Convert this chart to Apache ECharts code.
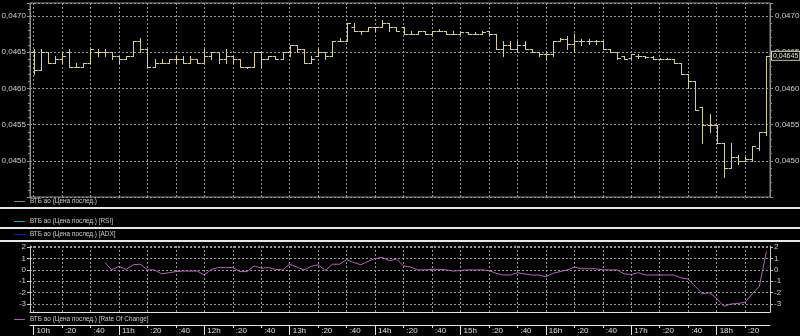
<!DOCTYPE html>
<html><head><meta charset="utf-8">
<script src="https://cdn.jsdelivr.net/npm/echarts@6/dist/echarts.min.js"></script>
<style>html,body{margin:0;padding:0;background:#000;}#c{width:800px;height:336px;}</style>
</head><body><div id="c"></div>
<script>
const times = ["10:00","10:05","10:10","10:15","10:20","10:25","10:30","10:35","10:40","10:45","10:50","10:55",
"11:00","11:05","11:10","11:15","11:20","11:25","11:30","11:35","11:40","11:45","11:50","11:55",
"12:00","12:05","12:10","12:15","12:20","12:25","12:30","12:35","12:40","12:45","12:50","12:55",
"13:00","13:05","13:10","13:15","13:20","13:25","13:30","13:35","13:40","13:45","13:50","13:55",
"14:00","14:05","14:10","14:15","14:20","14:25","14:30","14:35","14:40","14:45","14:50","14:55",
"15:00","15:05","15:10","15:15","15:20","15:25","15:30","15:35","15:40","15:45","15:50","15:55",
"16:00","16:05","16:10","16:15","16:20","16:25","16:30","16:35","16:40","16:45","16:50","16:55",
"17:00","17:05","17:10","17:15","17:20","17:25","17:30","17:35","17:40","17:45","17:50","17:55",
"18:00","18:05","18:10","18:15","18:20","18:25","18:30","18:35"];

const opens = [0.04650,0.04625,0.04650,0.04635,0.04640,0.04650,0.04630,0.04630,0.04635,0.04650,
0.04650,0.04650,0.04645,0.04640,0.04645,0.04665,0.04655,0.04630,0.04635,0.04635,
0.04640,0.04640,0.04635,0.04640,0.04635,0.04645,0.04650,0.04640,0.04645,0.04640,
0.04630,0.04630,0.04650,0.04640,0.04645,0.04640,0.04650,0.04660,0.04655,0.04635,
0.04645,0.04650,0.04645,0.04665,0.04665,0.04685,0.04680,0.04680,0.04685,0.04685,
0.04690,0.04685,0.04685,0.04675,0.04675,0.04680,0.04675,0.04680,0.04680,0.04675,
0.04675,0.04678,0.04675,0.04675,0.04680,0.04675,0.04655,0.04660,0.04655,0.04660,
0.04655,0.04650,0.04648,0.04648,0.04665,0.04668,0.04662,0.04665,0.04665,0.04665,
0.04665,0.04655,0.04650,0.04645,0.04642,0.04645,0.04645,0.04643,0.04640,0.04640,
0.04640,0.04635,0.04620,0.04610,0.04575,0.04550,0.04550,0.04525,0.04490,0.04505,
0.04500,0.04503,0.04518,0.04540];
const highs = [0.04655,0.04655,0.04650,0.04645,0.04650,0.04655,0.04635,0.04635,0.04655,0.04655,
0.04655,0.04650,0.04645,0.04645,0.04665,0.04670,0.04655,0.04640,0.04640,0.04640,
0.04645,0.04645,0.04645,0.04640,0.04655,0.04650,0.04650,0.04655,0.04645,0.04640,
0.04630,0.04650,0.04650,0.04645,0.04645,0.04650,0.04660,0.04660,0.04655,0.04645,
0.04655,0.04650,0.04665,0.04670,0.04690,0.04690,0.04680,0.04685,0.04685,0.04695,
0.04690,0.04685,0.04685,0.04680,0.04680,0.04680,0.04680,0.04682,0.04680,0.04680,
0.04680,0.04678,0.04678,0.04680,0.04680,0.04675,0.04665,0.04665,0.04665,0.04665,
0.04655,0.04650,0.04650,0.04665,0.04670,0.04672,0.04675,0.04668,0.04668,0.04667,
0.04665,0.04655,0.04650,0.04645,0.04648,0.04648,0.04645,0.04645,0.04642,0.04642,
0.04640,0.04635,0.04620,0.04610,0.04575,0.04565,0.04550,0.04525,0.04525,0.04508,
0.04505,0.04520,0.04540,0.04645];
const lows = [0.04620,0.04625,0.04635,0.04635,0.04635,0.04630,0.04630,0.04630,0.04635,0.04645,
0.04645,0.04640,0.04635,0.04640,0.04645,0.04650,0.04630,0.04630,0.04635,0.04635,
0.04635,0.04635,0.04635,0.04635,0.04635,0.04640,0.04635,0.04635,0.04635,0.04630,
0.04628,0.04630,0.04630,0.04640,0.04640,0.04640,0.04645,0.04650,0.04635,0.04635,
0.04645,0.04640,0.04645,0.04665,0.04665,0.04680,0.04675,0.04680,0.04680,0.04685,
0.04680,0.04680,0.04675,0.04675,0.04675,0.04675,0.04675,0.04680,0.04675,0.04675,
0.04675,0.04675,0.04675,0.04675,0.04675,0.04655,0.04645,0.04655,0.04650,0.04655,
0.04650,0.04645,0.04640,0.04645,0.04665,0.04655,0.04650,0.04660,0.04662,0.04662,
0.04655,0.04650,0.04640,0.04640,0.04640,0.04642,0.04642,0.04640,0.04640,0.04640,
0.04635,0.04620,0.04600,0.04570,0.04525,0.04540,0.04525,0.04478,0.04490,0.04495,
0.04500,0.04500,0.04515,0.04535];
const closes = [0.04625,0.04650,0.04635,0.04640,0.04645,0.04630,0.04630,0.04635,0.04655,0.04650,
0.04650,0.04645,0.04640,0.04645,0.04665,0.04655,0.04630,0.04635,0.04635,0.04640,
0.04640,0.04635,0.04640,0.04635,0.04645,0.04650,0.04640,0.04645,0.04640,0.04630,
0.04630,0.04650,0.04640,0.04645,0.04640,0.04650,0.04660,0.04655,0.04635,0.04640,
0.04650,0.04645,0.04665,0.04665,0.04690,0.04680,0.04680,0.04685,0.04685,0.04690,
0.04685,0.04680,0.04675,0.04675,0.04680,0.04675,0.04680,0.04680,0.04675,0.04675,
0.04678,0.04675,0.04675,0.04678,0.04675,0.04655,0.04660,0.04655,0.04660,0.04655,
0.04650,0.04648,0.04648,0.04665,0.04668,0.04662,0.04665,0.04665,0.04665,0.04665,
0.04655,0.04650,0.04642,0.04640,0.04648,0.04645,0.04643,0.04640,0.04640,0.04640,
0.04635,0.04620,0.04610,0.04570,0.04550,0.04550,0.04525,0.04490,0.04505,0.04500,
0.04503,0.04520,0.04540,0.04645];
const roc = [null,null,null,null,null,null,null,null,null,null,
0.65,0.0,0.3,0.05,0.45,0.5,0.0,0.0,-0.35,-0.25,
-0.15,-0.1,-0.1,-0.1,-0.45,0.05,0.2,0.2,0.2,-0.15,
-0.15,0.35,0.15,0.2,0.05,0.0,0.5,0.25,0.0,0.3,
0.45,-0.05,0.5,0.5,0.9,0.65,0.45,0.75,1.0,1.1,
0.8,0.95,0.35,0.25,0.0,0.0,0.05,0.05,0.0,-0.1,
-0.05,0.0,0.0,0.0,-0.05,-0.3,-0.45,-0.45,-0.25,-0.35,
-0.45,-0.45,-0.6,-0.3,-0.15,0.0,0.25,0.1,0.1,0.1,
0.0,0.0,0.0,-0.35,-0.4,-0.25,-0.45,-0.45,-0.45,-0.45,
-0.45,-0.7,-0.8,-1.45,-2.1,-2.0,-2.5,-3.2,-3.0,-2.95,
-2.85,-2.1,-1.45,1.6];
const legendNames = ["ВТБ ао (Цена послед.)","ВТБ ао (Цена послед.) [RSI]","ВТБ ао (Цена послед.) [ADX]","ВТБ ао (Цена послед.) [Rate Of Change]"];

const FONT = "'Liberation Sans','DejaVu Sans',sans-serif";
const TXT = '#d0d0d0';
const BAR = '#cfcf96';
const GRIDC = '#9a9a9a';
const ohlc = times.map((t,i)=>[i, opens[i], highs[i], lows[i], closes[i]]);

function renderOHLC(params, api){
  const x = api.value(0);
  const o = api.coord([x, api.value(1)]);
  const h = api.coord([x, api.value(2)]);
  const l = api.coord([x, api.value(3)]);
  const c = api.coord([x, api.value(4)]);
  const cx = Math.round(o[0]) + 0.5;
  const st = {stroke: BAR, lineWidth: 1};
  const ry = v => Math.round(v) + 0.5;
  return {type:'group', children:[
    {type:'line', shape:{x1:cx, y1:ry(h[1])-0.5, x2:cx, y2:ry(l[1])+0.5}, style:st},
    {type:'line', shape:{x1:cx-3, y1:ry(o[1]), x2:cx, y2:ry(o[1])}, style:st},
    {type:'line', shape:{x1:cx, y1:ry(c[1]), x2:cx+3.5, y2:ry(c[1])}, style:st}
  ]};
}

const every4 = (i)=> i % 4 === 0;
const dotted = {color: GRIDC, type: [2,2], width: 1};
const fmtPrice = v => v.toFixed(4).replace('.', ',');
const fmtTime = (v) => { const [h,m] = v.split(':'); return m === '00' ? (+h) + 'h' : ':' + m; };

function catAxis(gi, extra){
  return Object.assign({type:'category', gridIndex: gi, data: times, boundaryGap: true,
    axisLine:{show:false, onZero:false}, axisTick:{show:false}, axisLabel:{show:false},
    splitLine:{show:true, interval:(i)=>every4(i), alignWithLabel:true, lineStyle: dotted}}, extra||{});
}

function legendGraphic(y, color, text){
  return [
    {type:'line', shape:{x1:14, y1:y+0.5, x2:25, y2:y+0.5}, style:{stroke:color, lineWidth:1}},
    {type:'text', x:30, y:y, scaleX:0.8, style:{text:text, fill:TXT, font:'8px ' + FONT, textVerticalAlign:'middle'}}
  ];
}
function sep(y){ return {type:'line', shape:{x1:0, y1:y, x2:800, y2:y}, style:{stroke:'#e6e6e6', lineWidth:2}}; }

const chart = echarts.init(document.getElementById('c'), null, {renderer:'canvas'});
chart.setOption({
  backgroundColor: '#000',
  animation: false,
  textStyle: {fontFamily: FONT},
  grid: [
    {left:30, right:30, top:3, height:194, show:true, borderColor:'#8e8e8e', borderWidth:1, outerBoundsMode:'none'},
    {left:30, right:30, top:246, height:66, show:false, outerBoundsMode:'none'}
  ],
  xAxis: [
    catAxis(0),
    catAxis(1, {axisLine:{show:true, onZero:false, lineStyle:{color:'#e6e6e6', width:1}}}),
    {type:'category', gridIndex:1, data: times, boundaryGap:true, position:'bottom', offset:13,
      axisLine:{show:true, onZero:false, lineStyle:{color:'#e6e6e6', width:1}},
      axisTick:{show:true, interval:(i)=> i % 12 === 0, alignWithLabel:true, length:10, lineStyle:{color:'#e6e6e6'}},
      axisLabel:{show:true, interval:(i)=>every4(i), formatter: fmtTime, align:'left', margin:2, padding:[0,0,0,3],
        color:'#e0e0e0', fontSize:8, fontFamily: FONT},
      splitLine:{show:false}},
    {type:'category', gridIndex:1, data: times, boundaryGap:true, position:'bottom', offset:13,
      axisLine:{show:false, onZero:false},
      axisTick:{show:true, interval:(i)=> i % 4 === 0 && i % 12 !== 0, alignWithLabel:true, length:3, lineStyle:{color:'#e6e6e6'}},
      axisLabel:{show:false}, splitLine:{show:false}}
  ],
  yAxis: [
    {type:'value', gridIndex:0, position:'left', min:0.0445, max:0.04718, interval:0.0005,
      axisLine:{show:true, lineStyle:{color:'#8e8e8e'}},
      axisTick:{show:true, length:3, lineStyle:{color:'#8e8e8e'}},
      minorTick:{show:true, splitNumber:5, length:2, lineStyle:{color:'#8e8e8e'}},
      splitLine:{show:true, lineStyle: dotted},
      axisLabel:{formatter: fmtPrice, color:TXT, fontSize:8, margin:4, showMaxLabel:false, showMinLabel:false, fontFamily: FONT}},
    {type:'value', gridIndex:0, position:'right', min:0.0445, max:0.04718, interval:0.0005,
      axisLine:{show:true, lineStyle:{color:'#8e8e8e'}},
      axisTick:{show:true, length:3, lineStyle:{color:'#8e8e8e'}},
      minorTick:{show:true, splitNumber:5, length:2, lineStyle:{color:'#8e8e8e'}},
      splitLine:{show:false},
      axisLabel:{formatter: fmtPrice, color:TXT, fontSize:8, margin:5, showMaxLabel:false, showMinLabel:false, fontFamily: FONT}},
    {type:'value', gridIndex:1, position:'left', min:-3.7, max:2.1, splitNumber:5,
      axisLine:{show:true, lineStyle:{color:'#c8c8c8'}},
      axisTick:{show:true, length:3, lineStyle:{color:'#c8c8c8'}},
      splitLine:{show:true, lineStyle: dotted},
      axisLabel:{color:TXT, fontSize:8, margin:4, showMaxLabel:false, showMinLabel:false, fontFamily: FONT}},
    {type:'value', gridIndex:1, position:'right', min:-3.7, max:2.1, splitNumber:5,
      axisLine:{show:true, lineStyle:{color:'#c8c8c8'}},
      axisTick:{show:true, length:3, lineStyle:{color:'#c8c8c8'}},
      splitLine:{show:false},
      axisLabel:{color:TXT, fontSize:8, margin:4, showMaxLabel:false, showMinLabel:false, fontFamily: FONT}}
  ],
  series: [
    {type:'custom', name: legendNames[0], xAxisIndex:0, yAxisIndex:0, data: ohlc,
      encode:{x:0, y:[1,2,3,4]}, renderItem: renderOHLC, clip: true, z: 3,
      markLine:{silent:true, symbol:['none','none'], animation:false, precision:5,
        lineStyle:{width:1, color:'rgba(0,0,0,0)', type:'solid'},
        label:{show:true, position:'end', distance:2, formatter:(p)=> Number(p.value).toFixed(5).replace('.', ','),
          color:'#e8e8c8', backgroundColor:'#000', borderColor:'#d8d8a8', borderWidth:1, padding:[1,1,0,1], fontSize:7, fontFamily: FONT},
        data:[{yAxis: closes[closes.length-1]}]}},
    {type:'line', name: legendNames[3], xAxisIndex:1, yAxisIndex:2, data: roc, showSymbol:false, symbol:'none',
      lineStyle:{color:'#b06ab0', width:1}, connectNulls:false}
  ],
  graphic: [].concat(
    legendGraphic(201, '#8a8a68', legendNames[0]),
    [sep(208)],
    legendGraphic(221, '#2e9c9c', legendNames[1]),
    [sep(228)],
    legendGraphic(234, '#1c1ca8', legendNames[2]),
    [sep(241)],
    legendGraphic(319, '#a85aa8', legendNames[3])
  )
});
</script></body></html>
